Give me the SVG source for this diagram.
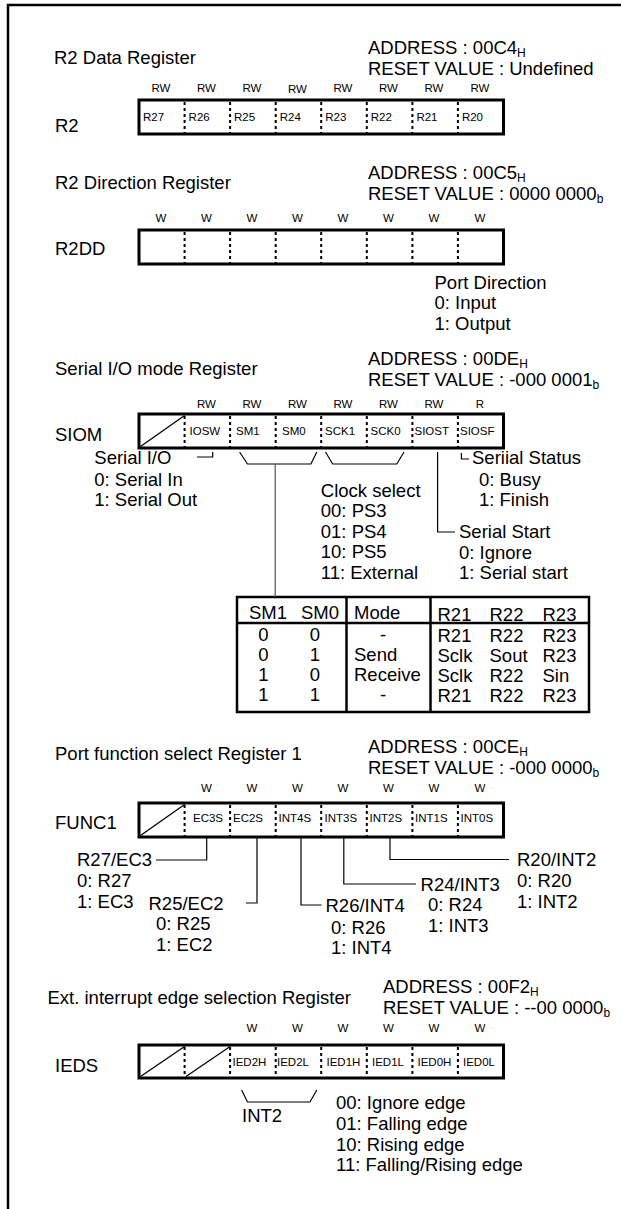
<svg xmlns="http://www.w3.org/2000/svg" width="621" height="1209" viewBox="0 0 621 1209">
<style>
text{font-family:"Liberation Sans",Arial,sans-serif;fill:#000}
.t{font-size:18.5px}
.s{font-size:11.5px}
.sub{font-size:12px}
.m{text-anchor:middle}
.box{fill:none;stroke:#000;stroke-width:3}
.dv{stroke:#000;stroke-width:2;stroke-dasharray:3 3}
.ln{fill:none;stroke:#000;stroke-width:1.2}
.gl{fill:none;stroke:#555;stroke-width:1.2}
.tb{fill:none;stroke:#000;stroke-width:2.5}
</style>
<defs>
<g id="dvs">
<line class="dv" x1="184.6" y1="2" x2="184.6" y2="33"/>
<line class="dv" x1="230.1" y1="2" x2="230.1" y2="33"/>
<line class="dv" x1="275.7" y1="2" x2="275.7" y2="33"/>
<line class="dv" x1="321.2" y1="2" x2="321.2" y2="33"/>
<line class="dv" x1="366.8" y1="2" x2="366.8" y2="33"/>
<line class="dv" x1="412.4" y1="2" x2="412.4" y2="33"/>
<line class="dv" x1="457.9" y1="2" x2="457.9" y2="33"/>
</g>
</defs>
<rect width="621" height="1209" fill="#fff"/>
<g id="frame"><path d="M8 1209V5H621" fill="none" stroke="#000" stroke-width="2.5"/></g>

<g id="r2">
<text class="t" x="54" y="64">R2 Data Register</text>
<text class="t" x="368" y="53.5">ADDRESS : 00C4<tspan class="sub" dy="3">H</tspan></text>
<text class="t" x="368" y="74.5">RESET VALUE : Undefined</text>
<text class="s m" x="161" y="91.5">RW</text><text class="s m" x="206.5" y="91.5">RW</text><text class="s m" x="252" y="91.5">RW</text><text class="s m" x="297.5" y="92.5">RW</text><text class="s m" x="343" y="91.5">RW</text><text class="s m" x="388.5" y="91.5">RW</text><text class="s m" x="434" y="91.5">RW</text><text class="s m" x="480" y="91.5">RW</text>
<rect class="box" x="139" y="100" width="364.5" height="34"/>
<use href="#dvs" y="100"/>
<text class="s" x="143" y="121">R27</text><text class="s" x="188.6" y="121">R26</text><text class="s" x="234" y="121">R25</text><text class="s" x="279.7" y="121">R24</text><text class="s" x="325.2" y="121">R23</text><text class="s" x="370.8" y="121">R22</text><text class="s" x="416.4" y="121">R21</text><text class="s" x="461.9" y="121">R20</text>
<text class="t" x="55" y="132">R2</text>
</g>

<g id="r2dd">
<text class="t" x="55" y="188.5">R2 Direction Register</text>
<text class="t" x="368" y="179">ADDRESS : 00C5<tspan class="sub" dy="3">H</tspan></text>
<text class="t" x="368" y="200">RESET VALUE : 0000 0000<tspan class="sub" dy="3">b</tspan></text>
<text class="s m" x="161" y="222">W</text><text class="s m" x="206.5" y="222">W</text><text class="s m" x="252" y="222">W</text><text class="s m" x="297.5" y="222">W</text><text class="s m" x="343" y="222">W</text><text class="s m" x="388.5" y="222">W</text><text class="s m" x="434" y="222">W</text><text class="s m" x="480" y="222">W</text>
<rect class="box" x="139" y="230" width="364.5" height="34"/>
<use href="#dvs" y="230"/>
<text class="t" x="55" y="254.5">R2DD</text>
<text class="t" x="434.5" y="288.5">Port Direction</text>
<text class="t" x="434.5" y="309">0: Input</text>
<text class="t" x="434.5" y="329.5">1: Output</text>
</g>

<g id="siom">
<text class="t" x="55" y="375">Serial I/O mode Register</text>
<text class="t" x="368" y="364.5">ADDRESS : 00DE<tspan class="sub" dy="3">H</tspan></text>
<text class="t" x="368" y="385.5">RESET VALUE : -000 0001<tspan class="sub" dy="3">b</tspan></text>
<text class="s m" x="206.5" y="408">RW</text><text class="s m" x="252" y="408">RW</text><text class="s m" x="297.5" y="408">RW</text><text class="s m" x="343" y="408">RW</text><text class="s m" x="388.5" y="408">RW</text><text class="s m" x="434" y="408">RW</text><text class="s m" x="480" y="408">R</text>
<rect class="box" x="139" y="414" width="364.5" height="34"/>
<use href="#dvs" y="414"/>
<line x1="140.5" y1="446.5" x2="184.6" y2="415.5" stroke="#000" stroke-width="1.3"/>
<text class="s" x="189.5" y="435">IOSW</text><text class="s" x="236" y="435">SM1</text><text class="s" x="282" y="435">SM0</text><text class="s" x="325" y="435">SCK1</text><text class="s" x="370.5" y="435">SCK0</text><text class="s" x="414.5" y="435">SIOST</text><text class="s" x="460" y="435">SIOSF</text>
<text class="t" x="55" y="441">SIOM</text>
<text class="t" x="94.3" y="464">Serial I/O</text>
<text class="t" x="94.3" y="485.5">0: Serial In</text>
<text class="t" x="94.3" y="506">1: Serial Out</text>
<text class="t" x="320.8" y="496.5">Clock select</text>
<text class="t" x="320.8" y="517">00: PS3</text>
<text class="t" x="320.8" y="537.5">01: PS4</text>
<text class="t" x="320.8" y="558">10: PS5</text>
<text class="t" x="320.8" y="578.5">11: External</text>
<text class="t" x="459" y="538">Serial Start</text>
<text class="t" x="459" y="558.5">0: Ignore</text>
<text class="t" x="459" y="579">1: Serial start</text>
<text class="t" x="472" y="464">Seriial Status</text>
<text class="t" x="479" y="485.5">0: Busy</text>
<text class="t" x="479" y="506">1: Finish</text>
</g>

<g id="modetable">
<rect class="tb" x="237" y="597" width="352" height="115"/>
<line class="tb" x1="237" y1="623" x2="589" y2="623"/>
<line class="tb" x1="346.5" y1="597" x2="346.5" y2="712"/>
<line class="tb" x1="430.5" y1="597" x2="430.5" y2="712"/>
<text class="t" x="249" y="619">SM1</text><text class="t" x="301" y="619">SM0</text><text class="t" x="354" y="619">Mode</text>
<text class="t" x="437.5" y="621">R21</text><text class="t" x="489.5" y="621">R22</text><text class="t" x="542.5" y="621">R23</text>
<text class="t m" x="263.3" y="641">0</text><text class="t m" x="315" y="641">0</text><text class="t m" x="383" y="641">-</text>
<text class="t" x="437.5" y="642">R21</text><text class="t" x="489.5" y="642">R22</text><text class="t" x="542.5" y="642">R23</text>
<text class="t m" x="263.3" y="661">0</text><text class="t m" x="315" y="661">1</text><text class="t" x="354" y="661">Send</text>
<text class="t" x="437.5" y="662">Sclk</text><text class="t" x="489.5" y="662">Sout</text><text class="t" x="542.5" y="662">R23</text>
<text class="t m" x="263.3" y="681">1</text><text class="t m" x="315" y="681">0</text><text class="t" x="354" y="681">Receive</text>
<text class="t" x="437.5" y="682">Sclk</text><text class="t" x="489.5" y="682">R22</text><text class="t" x="542.5" y="682">Sin</text>
<text class="t m" x="263.3" y="701">1</text><text class="t m" x="315" y="701">1</text><text class="t m" x="383" y="701">-</text>
<text class="t" x="437.5" y="702">R21</text><text class="t" x="489.5" y="702">R22</text><text class="t" x="542.5" y="702">R23</text>
</g>

<g id="func1">
<text class="t" x="55" y="760">Port function select Register 1</text>
<text class="t" x="368" y="752.5">ADDRESS : 00CE<tspan class="sub" dy="3">H</tspan></text>
<text class="t" x="368" y="773.5">RESET VALUE : -000 0000<tspan class="sub" dy="3">b</tspan></text>
<text class="s m" x="206.5" y="792">W</text><text class="s m" x="252" y="792">W</text><text class="s m" x="297.5" y="792">W</text><text class="s m" x="343" y="792">W</text><text class="s m" x="388.5" y="792">W</text><text class="s m" x="434" y="792">W</text><text class="s m" x="480" y="792">W</text>
<rect class="box" x="139" y="803" width="364.5" height="34"/>
<use href="#dvs" y="803"/>
<line x1="140.5" y1="835.5" x2="184.6" y2="804.5" stroke="#000" stroke-width="1.3"/>
<text class="s" x="193" y="822">EC3S</text><text class="s" x="233" y="822">EC2S</text><text class="s" x="278.5" y="822">INT4S</text><text class="s" x="324.5" y="822">INT3S</text><text class="s" x="369.5" y="822">INT2S</text><text class="s" x="415" y="822">INT1S</text><text class="s" x="460.5" y="822">INT0S</text>
<text class="t" x="55" y="829">FUNC1</text>
<text class="t" x="77" y="866">R27/EC3</text>
<text class="t" x="77" y="887">0: R27</text>
<text class="t" x="77" y="908">1: EC3</text>
<text class="t" x="148.5" y="909.5">R25/EC2</text>
<text class="t" x="156" y="930">0: R25</text>
<text class="t" x="156" y="951">1: EC2</text>
<text class="t" x="325.5" y="911.5">R26/INT4</text>
<text class="t" x="331" y="933.5">0: R26</text>
<text class="t" x="331" y="954">1: INT4</text>
<text class="t" x="420.6" y="890.5">R24/INT3</text>
<text class="t" x="428" y="911">0: R24</text>
<text class="t" x="428" y="931.5">1: INT3</text>
<text class="t" x="517" y="866">R20/INT2</text>
<text class="t" x="517" y="887">0: R20</text>
<text class="t" x="517" y="907.5">1: INT2</text>
</g>

<g id="ieds">
<text class="t" x="47.5" y="1003.5">Ext. interrupt edge selection Register</text>
<text class="t" x="383" y="992.5">ADDRESS : 00F2<tspan class="sub" dy="3">H</tspan></text>
<text class="t" x="383" y="1013.5">RESET VALUE : --00 0000<tspan class="sub" dy="3">b</tspan></text>
<text class="s m" x="252" y="1032">W</text><text class="s m" x="297.5" y="1032">W</text><text class="s m" x="343" y="1032">W</text><text class="s m" x="388.5" y="1032">W</text><text class="s m" x="434" y="1032">W</text><text class="s m" x="480" y="1032">W</text>
<rect class="box" x="139" y="1045" width="364.5" height="33"/>
<use href="#dvs" y="1045"/>
<line x1="140.5" y1="1076.5" x2="184.6" y2="1046.5" stroke="#000" stroke-width="1.3"/>
<line x1="186" y1="1076.5" x2="230.1" y2="1046.5" stroke="#000" stroke-width="1.3"/>
<text class="s" x="232.5" y="1066">IED2H</text><text class="s" x="277" y="1066">IED2L</text><text class="s" x="326.5" y="1066">IED1H</text><text class="s" x="372" y="1066">IED1L</text><text class="s" x="417.5" y="1066">IED0H</text><text class="s" x="463" y="1066">IED0L</text>
<text class="t" x="55" y="1072">IEDS</text>
<text class="t" x="242" y="1122">INT2</text>
<text class="t" x="336" y="1109">00: Ignore edge</text>
<text class="t" x="336" y="1130">01: Falling edge</text>
<text class="t" x="336" y="1150.5">10: Rising edge</text>
<text class="t" x="336" y="1171">11: Falling/Rising edge</text>
</g>

<g id="connectors">
<path class="ln" d="M197 457H212.7V452"/>
<path class="ln" d="M239.6 452L247.5 464H310.9L316.8 452"/>
<path class="ln" d="M325.5 452L332.7 464H396.8L404 452"/>
<path class="gl" d="M275.2 464V597"/>
<path class="ln" d="M437.6 452V532H455"/>
<path class="ln" d="M461.4 453V459H469"/>
<path class="ln" d="M206.7 838V860H156"/>
<path class="ln" d="M257 838V903H246"/>
<path class="ln" d="M301 838V905H321.6"/>
<path class="ln" d="M343.8 838V884H416"/>
<path class="ln" d="M390 838V859.5H509"/>
<path class="ln" d="M241.6 1090L247.5 1102H310L316.8 1090"/>
</g>
</svg>
